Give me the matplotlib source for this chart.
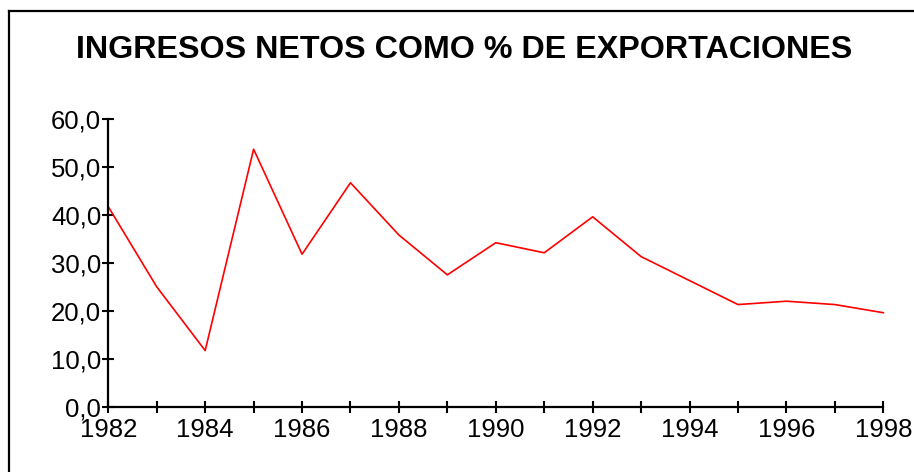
import matplotlib
matplotlib.use("Agg")
import matplotlib.pyplot as plt
from matplotlib.lines import Line2D
from matplotlib.ticker import FuncFormatter, MultipleLocator

years = [1982, 1983, 1984, 1985, 1986, 1987, 1988, 1989, 1990,
         1991, 1992, 1993, 1994, 1995, 1996, 1997, 1998]
values = [41.7, 25.0, 11.7, 53.7, 31.8, 46.7, 35.8, 27.5, 34.2,
          32.1, 39.6, 31.3, 26.3, 21.3, 22.0, 21.3, 19.6]
title = "INGRESOS NETOS COMO % DE EXPORTACIONES"

plt.rcParams['font.family'] = ['Liberation Sans', 'DejaVu Sans']

fig = plt.figure(figsize=(9.14, 4.72), dpi=100)
W, H = 914, 472
ax = fig.add_axes([108.3 / W, 1 - 406.7 / H, (883.3 - 108.3) / W, (406.7 - 119) / H])

ax.plot(years, values, color='#ff0000', linewidth=1.2, clip_on=False)
ax.set_xlim(1982, 1998)
ax.set_ylim(0, 60)

ax.xaxis.set_major_locator(MultipleLocator(2))
ax.xaxis.set_minor_locator(MultipleLocator(1))
ax.yaxis.set_major_locator(MultipleLocator(10))
ax.yaxis.set_major_formatter(FuncFormatter(lambda v, p: f"{v:.1f}".replace('.', ',')))
ax.xaxis.set_major_formatter(FuncFormatter(lambda v, p: f"{int(v)}"))

for s in ['top', 'right']:
    ax.spines[s].set_visible(False)
for s in ['left', 'bottom']:
    ax.spines[s].set_linewidth(1.6)

ax.tick_params(axis='both', which='both', direction='inout', length=8, width=1.5,
               labelsize=18.5, color='black', labelcolor='black')
ax.tick_params(axis='x', pad=4)
ax.tick_params(axis='y', pad=1)

fig.text(464.5 / W, 1 - 49.5 / H, title, ha='center', va='center',
         fontsize=23.2, fontweight='bold')

# outer frame (left and top edges)
fig.add_artist(Line2D([9 / W, 9 / W], [0, 1 - 11 / H], transform=fig.transFigure,
                      color='black', linewidth=1.6))
fig.add_artist(Line2D([9 / W, 1], [1 - 11 / H, 1 - 11 / H], transform=fig.transFigure,
                      color='black', linewidth=1.6))

fig.savefig("out.png", dpi=100)
